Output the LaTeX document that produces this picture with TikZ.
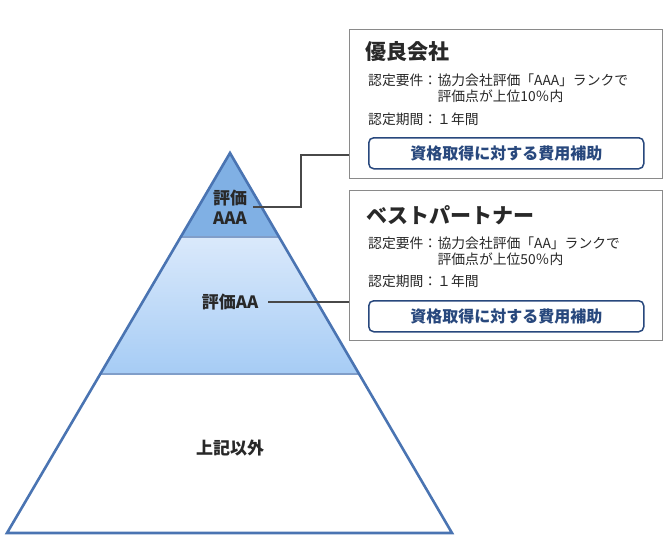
\documentclass[tikz,border=0pt]{standalone}
\usepackage{fontspec}
\setmainfont{Noto Sans CJK JP}
\usetikzlibrary{positioning,calc}
\definecolor{pyline}{RGB}{74,116,178}
\definecolor{topfill}{RGB}{128,176,228}
\definecolor{midtop}{RGB}{218,233,251}
\definecolor{midbot}{RGB}{166,204,245}
\definecolor{ink}{RGB}{40,40,40}
\definecolor{boxline}{RGB}{138,138,138}
\definecolor{btnblue}{RGB}{40,72,125}

\begin{document}
\begin{tikzpicture}[x=1pt,y=-1pt,
  font=\fontsize{13.8}{16}\selectfont,
  tier/.style={font=\fontsize{17}{20}\selectfont\bfseries, text=ink, align=center, inner sep=0pt},
  card/.style={draw=boxline, line width=1.2pt, fill=white, anchor=north west,
               minimum width=313pt, minimum height=149pt, inner sep=0pt},
  head/.style={font=\fontsize{21}{24}\selectfont\bfseries, text=ink, anchor=west, inner sep=0pt},
  body/.style={text=ink, anchor=north west, inner sep=0pt, align=left},
  btn/.style={draw=btnblue, line width=1.5pt, rounded corners=5pt, anchor=north west,
              minimum width=275pt, minimum height=31pt, text=btnblue,
              font=\fontsize{16}{18}\selectfont\bfseries},
  link/.style={draw=ink!85, line width=1.6pt},
]
\useasboundingbox (0,0) rectangle (670,549);

% pyramid
\fill[topfill] (230,153) -- (279,237) -- (181,237) -- cycle;
\shade[top color=midtop, bottom color=midbot] (181,237) -- (279,237) -- (359,374) -- (101,374) -- cycle;
\draw[pyline!70, line width=1.2pt] (181,237) -- (279,237);
\draw[pyline!70, line width=1.2pt] (101,374) -- (359,374);
\draw[pyline, line width=2.6pt] (230,153) -- (452,533) -- (7,533) -- cycle;

\node[tier] (aaa)  at (230,207) {評価\\AAA};
\node[tier] (aa)   at (230,302) {評価AA};
\node[tier] (rest) at (230,448) {上記以外};

% cards
\node[card] (good) at (349,29) {};
\node[head] (goodtitle) at (365,52) {優良会社};
\node[body] (goodreq) at (368,74) {認定要件：};
\node[body] (goodcond) at (goodreq.north east) {協力会社評価「AAA」ランクで\\評価点が上位10％内};
\node[body] (goodterm) at (368,113) {認定期間：１年間};
\node[btn] (goodbtn) at (368,137) {資格取得に対する費用補助};

\node[card, minimum height=150pt] (best) at (349,190) {};
\node[head] (besttitle) at (366,215) {ベストパートナー};
\node[body] (bestreq) at (368,237) {認定要件：};
\node[body] (bestcond) at (bestreq.north east) {協力会社評価「AA」ランクで\\評価点が上位50％内};
\node[body] (bestterm) at (368,275) {認定期間：１年間};
\node[btn] (bestbtn) at (368,300) {資格取得に対する費用補助};

% connectors
\draw[link] ([xshift=6pt]aaa.east) -- ++(48,0) |- ($(good.north west)+(0,126)$);
\draw[link] ([xshift=10pt]aa.east) -- (aa.east -| best.west);

\end{tikzpicture}
\end{document}
